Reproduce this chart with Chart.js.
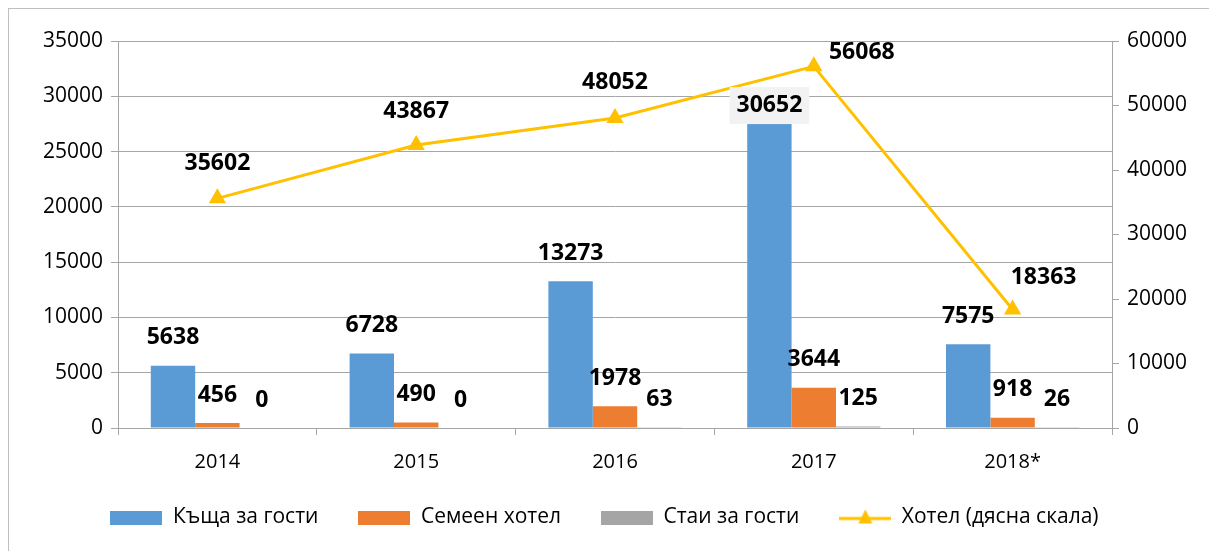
<!DOCTYPE html>
<html>
<head>
<meta charset="utf-8">
<script src="https://cdn.jsdelivr.net/npm/chart.js@4"></script>
<style>
  html, body { margin: 0; padding: 0; background: #fff; overflow: hidden; }
  #frame { position: absolute; left: 8px; top: 8px; width: 1300px; height: 700px;
           border-left: 1px solid #bfbfbf; border-top: 1px solid #bfbfbf; }
  #wrap { position: absolute; left: 0; top: 0; width: 1209px; height: 551px; }
</style>
</head>
<body>
<div id="frame"></div>
<div id="wrap"><canvas id="chart" width="1209" height="551"></canvas></div>
<script>
var years = ['2014', '2015', '2016', '2017', '2018*'];
var guestHouse = [5638, 6728, 13273, 30652, 7575];
var familyHotel = [456, 490, 1978, 3644, 918];
var guestRooms = [0, 0, 63, 125, 26];
var hotel = [35602, 43867, 48052, 56068, 18363];

var FONT = '"Open Sans", sans-serif';

// little images for the legend markers
function boxMarker(color) {
    var c = document.createElement('canvas');
    c.width = 52; c.height = 14;
    var g = c.getContext('2d');
    g.fillStyle = color;
    g.fillRect(0, 0, 52, 14);
    return c;
}
function lineMarker(color) {
    var c = document.createElement('canvas');
    c.width = 52; c.height = 18;
    var g = c.getContext('2d');
    g.strokeStyle = color;
    g.lineWidth = 3;
    g.beginPath(); g.moveTo(0, 10); g.lineTo(52, 10); g.stroke();
    g.fillStyle = color;
    g.beginPath(); g.moveTo(26, 1); g.lineTo(33, 15); g.lineTo(19, 15); g.closePath(); g.fill();
    return c;
}

// value labels, drawn by hand
var valueLabels = {
    id: 'valueLabels',
    afterDatasetsDraw: function (chart, args, opts) {
        var ctx = chart.ctx;
        ctx.save();
        ctx.font = 'bold 23px ' + FONT;
        ctx.textAlign = 'center';
        ctx.textBaseline = 'middle';
        chart.data.datasets.forEach(function (ds, di) {
            var meta = chart.getDatasetMeta(di);
            meta.data.forEach(function (el, i) {
                var txt = String(ds.data[i]);
                var x = el.x, y;
                if (ds.type === 'line') {
                    x += opts.lineDx[i];
                    y = el.y + opts.lineDy[i];
                } else if (ds.data[i] > 25000) {
                    y = el.y + 16;
                    var w = ctx.measureText(txt).width + 14;
                    ctx.fillStyle = '#f2f2f2';
                    ctx.fillRect(x - w / 2, y - 18, w, 37);
                } else {
                    y = el.y - 28;
                }
                ctx.fillStyle = '#000';
                ctx.fillText(txt, x, y);
            });
        });
        ctx.restore();
    }
};

// keep the legend band a fixed height
var legendHeight = {
    id: 'legendHeight',
    beforeLayout: function (chart) {
        var lg = chart.legend;
        if (lg && !lg._fixed) {
            var orig = lg.fit;
            lg.fit = function () { orig.call(this); this.height = 84; };
            lg._fixed = true;
        }
    }
};

var plainTick = function (v) { return String(v); };

var ctx = document.getElementById('chart').getContext('2d');
var chart = new Chart(ctx, {
    type: 'bar',
    data: {
        labels: years,
        datasets: [{
            label: 'Къща за гости',
            data: guestHouse,
            backgroundColor: '#5b9bd5',
            yAxisID: 'y',
            order: 1
        }, {
            label: 'Семеен хотел',
            data: familyHotel,
            backgroundColor: '#ed7d31',
            yAxisID: 'y',
            order: 1
        }, {
            label: 'Стаи за гости',
            data: guestRooms,
            backgroundColor: '#a5a5a5',
            yAxisID: 'y',
            order: 1
        }, {
            type: 'line',
            label: 'Хотел (дясна скала)',
            data: hotel,
            borderColor: '#ffc000',
            backgroundColor: '#ffc000',
            borderWidth: 3,
            pointStyle: 'triangle',
            pointRadius: 7,
            pointHoverRadius: 7,
            yAxisID: 'y1',
            order: 0
        }]
    },
    options: {
        responsive: false,
        animation: false,
        events: [],
        layout: { padding: { top: 41, right: 0, left: 0, bottom: 0 } },
        datasets: {
            bar: { categoryPercentage: 0.67, barPercentage: 1.0 }
        },
        scales: {
            x: {
                grid: { display: true, drawOnChartArea: false, color: '#a6a6a6', tickLength: 7 },
                border: { color: '#a6a6a6' },
                ticks: { color: '#000', font: { family: FONT, size: 20 }, padding: 15 },
                afterFit: function (s) {
                    s.height = 39;
                    s._computeLabelArea = function () { return undefined; };  // don't clip the year labels
                }
            },
            y: {
                position: 'left',
                min: 0, max: 35000,
                ticks: { stepSize: 5000, color: '#000', font: { family: FONT, size: 21 }, padding: 8, callback: plainTick },
                grid: { color: '#a6a6a6', tickLength: 7 },
                border: { color: '#a6a6a6' },
                afterFit: function (s) { s.width = 118; }
            },
            y1: {
                position: 'right',
                min: 0, max: 60000,
                ticks: { stepSize: 10000, color: '#000', font: { family: FONT, size: 21 }, padding: 8, callback: plainTick },
                grid: { drawOnChartArea: false, color: '#a6a6a6', tickLength: 7 },
                border: { color: '#a6a6a6' },
                afterFit: function (s) { s.width = 97; }
            }
        },
        plugins: {
            tooltip: { enabled: false },
            legend: {
                position: 'bottom',
                labels: {
                    color: '#000',
                    font: { family: FONT, size: 21 },
                    usePointStyle: true,
                    pointStyleWidth: 52,
                    boxHeight: 14,
                    padding: 40,
                    sort: function (a, b) { return a.datasetIndex - b.datasetIndex; },
                    generateLabels: function (chart) {
                        return chart.data.datasets.map(function (ds, i) {
                            return {
                                text: ds.label,
                                datasetIndex: i,
                                fontColor: '#000',
                                lineWidth: 0,
                                hidden: false,
                                pointStyle: ds.type === 'line' ? lineMarker(ds.borderColor) : boxMarker(ds.backgroundColor)
                            };
                        });
                    }
                }
            },
            valueLabels: {
                lineDx: [0, 0, 0, 48, 31],
                lineDy: [-35, -34, -36, -14, -32]
            }
        }
    },
    plugins: [valueLabels, legendHeight]
});
</script>
</body>
</html>
